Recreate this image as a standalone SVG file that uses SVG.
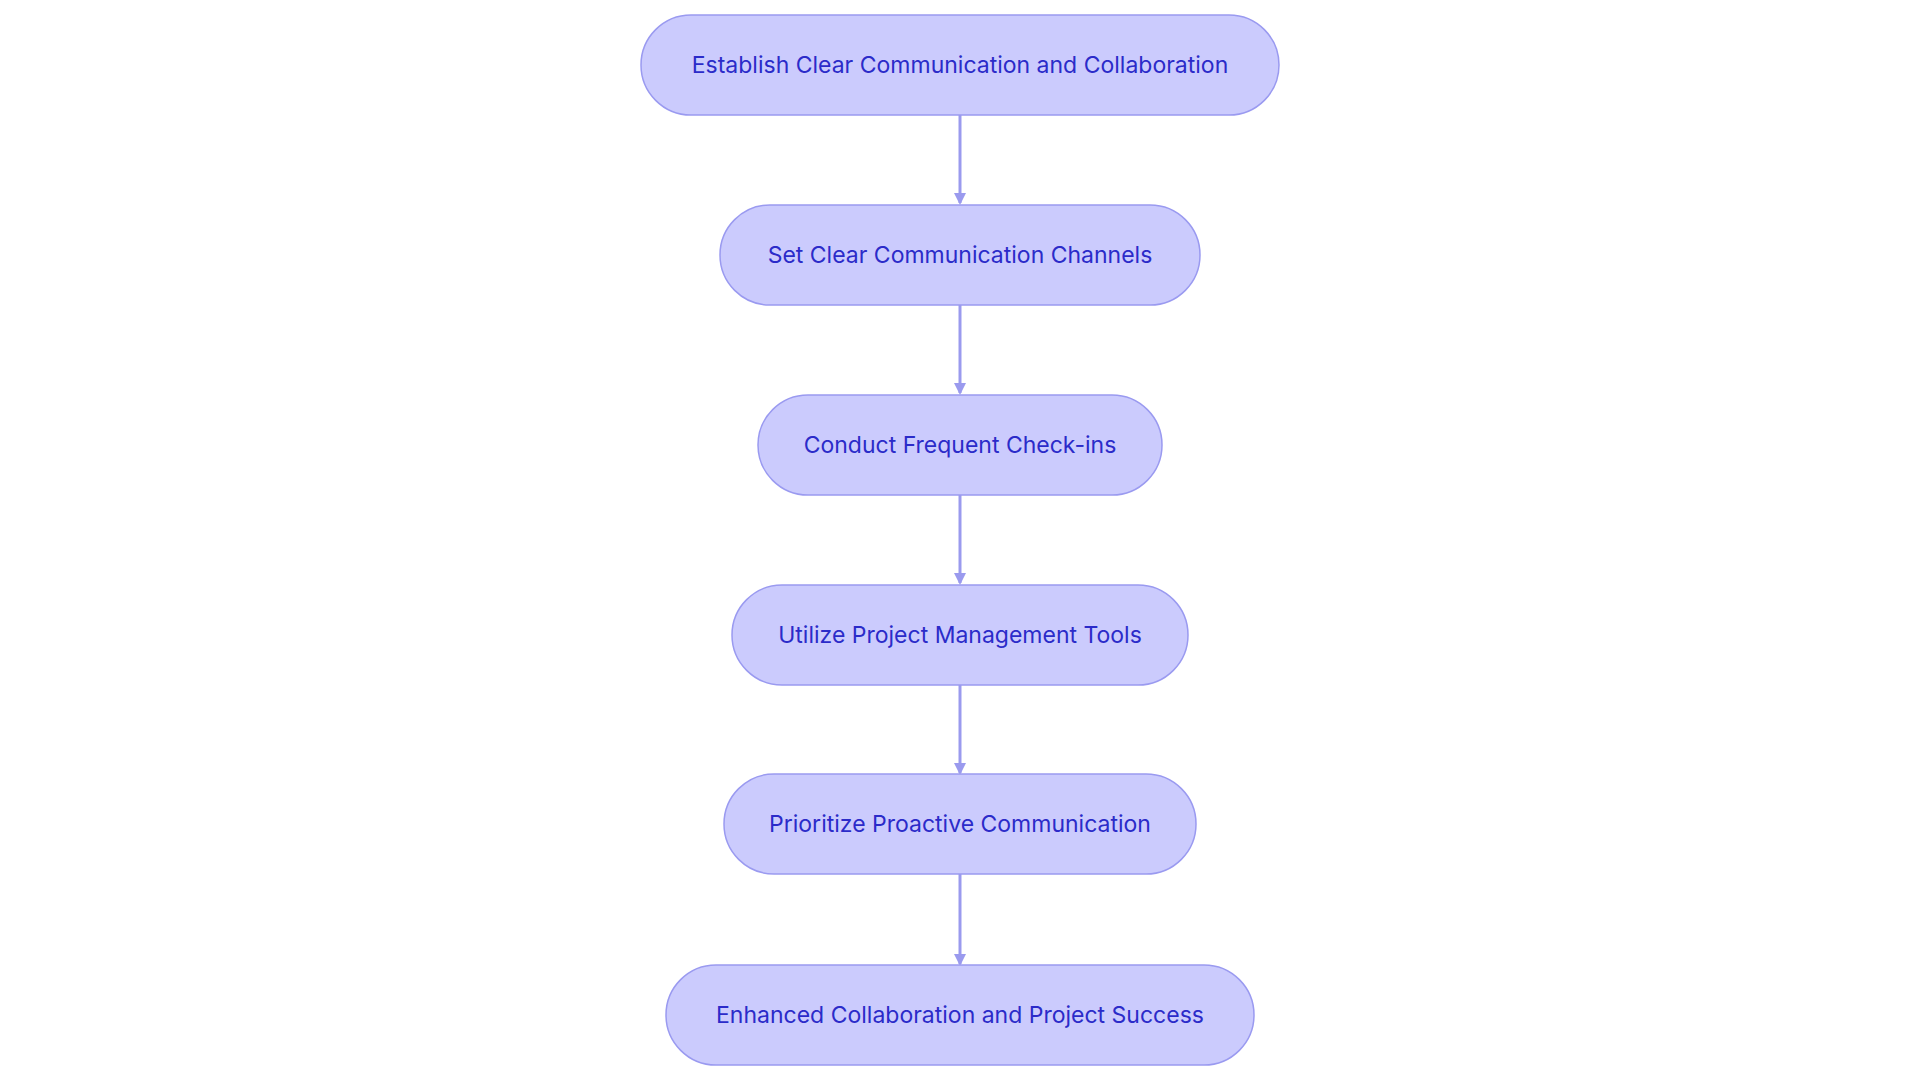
<svg xmlns="http://www.w3.org/2000/svg" width="1920" height="1083" viewBox="0 0 1920 1083">
<style>
.n rect{fill:#cbcbfd;stroke:#9a9af0;stroke-width:1.5}
.n text{font-family:Inter,"Noto Sans",sans-serif;font-size:23px;fill:#2b2bc9;text-anchor:middle;dominant-baseline:central}
.c line{stroke:#9a9aee;stroke-width:3;marker-end:url(#a)}
</style>
<defs><marker id="a" markerWidth="12" markerHeight="12" refX="10" refY="6" orient="auto" markerUnits="userSpaceOnUse"><path d="M0,0L12,6L0,12z" fill="#9a9aee"/></marker></defs>
<rect width="1920" height="1083" fill="#fff"/>
<g class="c">
<line x1="960" y1="115" x2="960" y2="203"/>
<line x1="960" y1="305" x2="960" y2="393"/>
<line x1="960" y1="495" x2="960" y2="583"/>
<line x1="960" y1="685" x2="960" y2="773"/>
<line x1="960" y1="874" x2="960" y2="964"/>
</g>
<g id="n1" class="n"><rect x="641" y="15" width="638" height="100" rx="50"/><text x="960" y="65">Establish Clear Communication and Collaboration</text></g>
<g id="n2" class="n"><rect x="720" y="205" width="480" height="100" rx="50"/><text x="960" y="255">Set Clear Communication Channels</text></g>
<g id="n3" class="n"><rect x="758" y="395" width="404" height="100" rx="50"/><text x="960" y="445">Conduct Frequent Check-ins</text></g>
<g id="n4" class="n"><rect x="732" y="585" width="456" height="100" rx="50"/><text x="960" y="635">Utilize Project Management Tools</text></g>
<g id="n5" class="n"><rect x="724" y="774" width="472" height="100" rx="50"/><text x="960" y="824">Prioritize Proactive Communication</text></g>
<g id="n6" class="n"><rect x="666" y="965" width="588" height="100" rx="50"/><text x="960" y="1015">Enhanced Collaboration and Project Success</text></g>
</svg>
